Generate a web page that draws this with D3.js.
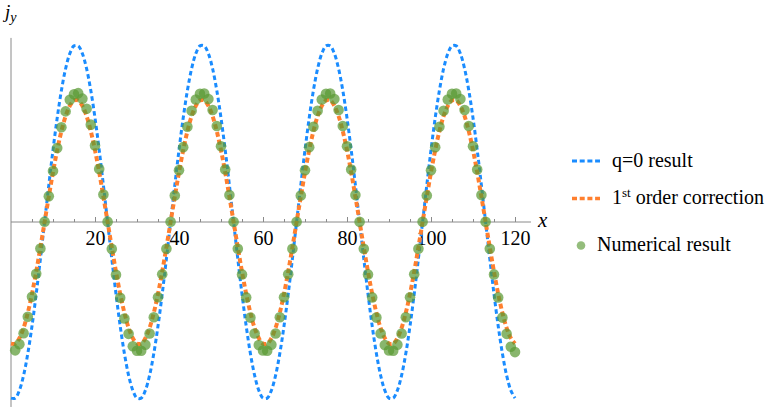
<!DOCTYPE html>
<html><head><meta charset="utf-8">
<script src="https://cdn.jsdelivr.net/npm/d3@7"></script>
</head>
<body style="margin:0;padding:0;background:#fff">
<svg id="c" width="775" height="411" style="display:block;font-family:'Liberation Serif',serif"></svg>
<script>
// ---- data ----
const xTicks = [20, 40, 60, 80, 100, 120];
const xMinorTicks = [5, 10, 15, 25, 30, 35, 45, 50, 55, 65, 70, 75, 85, 90, 95, 105, 110, 115];

// q=0 result, sampled at x = 0,1,...,120
const q0X = d3.range(0, 121, 1);
const q0Y = [
 -0.995,-0.995,-0.951,-0.866,-0.743,-0.588,-0.407,-0.208,0,0.208,0.407,0.588,0.743,0.866,0.951,0.995,0.995,0.951,0.866,0.743,0.588,0.407,0.208,0,-0.208,-0.407,-0.588,-0.743,-0.866,-0.951,
 -0.995,-0.995,-0.951,-0.866,-0.743,-0.588,-0.407,-0.208,0,0.208,0.407,0.588,0.743,0.866,0.951,0.995,0.995,0.951,0.866,0.743,0.588,0.407,0.208,0,-0.208,-0.407,-0.588,-0.743,-0.866,-0.951,
 -0.995,-0.995,-0.951,-0.866,-0.743,-0.588,-0.407,-0.208,0,0.208,0.407,0.588,0.743,0.866,0.951,0.995,0.995,0.951,0.866,0.743,0.588,0.407,0.208,0,-0.208,-0.407,-0.588,-0.743,-0.866,-0.951,
 -0.995,-0.995,-0.951,-0.866,-0.743,-0.588,-0.407,-0.208,0,0.208,0.407,0.588,0.743,0.866,0.951,0.995,0.995,0.951,0.866,0.743,0.588,0.407,0.208,0,-0.208,-0.407,-0.588,-0.743,-0.866,-0.951,
 -0.995
];

// 1st order correction, sampled at x = 0,1,...,120
const corrX = d3.range(0, 121, 1);
const corrY = [
 -0.687,-0.687,-0.656,-0.598,-0.513,-0.406,-0.281,-0.143,0,0.143,0.281,0.406,0.513,0.598,0.656,0.687,0.687,0.656,0.598,0.513,0.406,0.281,0.143,0,-0.143,-0.281,-0.406,-0.513,-0.598,-0.656,
 -0.687,-0.687,-0.656,-0.598,-0.513,-0.406,-0.281,-0.143,0,0.143,0.281,0.406,0.513,0.598,0.656,0.687,0.687,0.656,0.598,0.513,0.406,0.281,0.143,0,-0.143,-0.281,-0.406,-0.513,-0.598,-0.656,
 -0.687,-0.687,-0.656,-0.598,-0.513,-0.406,-0.281,-0.143,0,0.143,0.281,0.406,0.513,0.598,0.656,0.687,0.687,0.656,0.598,0.513,0.406,0.281,0.143,0,-0.143,-0.281,-0.406,-0.513,-0.598,-0.656,
 -0.687,-0.687,-0.656,-0.598,-0.513,-0.406,-0.281,-0.143,0,0.143,0.281,0.406,0.513,0.598,0.656,0.687,0.687,0.656,0.598,0.513,0.406,0.281,0.143,0,-0.143,-0.281,-0.406,-0.513,-0.598,-0.656,
 -0.687
];

// Numerical result, x = 1,2,...,120
const numX = d3.range(1, 121, 1);
const numY = [
 -0.725,-0.690,-0.628,-0.535,-0.423,-0.293,-0.150,0.002,0.145,0.288,0.418,0.535,0.625,0.690,0.722,0.728,0.697,0.640,0.550,0.432,0.300,0.155,0.002,-0.152,-0.298,-0.428,-0.545,-0.632,-0.702,-0.727,
 -0.727,-0.693,-0.630,-0.538,-0.425,-0.295,-0.151,0.001,0.150,0.293,0.423,0.538,0.628,0.692,0.724,0.726,0.695,0.633,0.542,0.428,0.297,0.152,0.001,-0.151,-0.296,-0.426,-0.540,-0.630,-0.695,-0.726,
 -0.727,-0.693,-0.630,-0.538,-0.425,-0.295,-0.151,0.001,0.150,0.293,0.423,0.538,0.628,0.692,0.724,0.726,0.695,0.633,0.542,0.428,0.297,0.152,0.001,-0.151,-0.296,-0.426,-0.540,-0.630,-0.695,-0.726,
 -0.727,-0.693,-0.630,-0.538,-0.425,-0.295,-0.151,0.001,0.150,0.293,0.423,0.538,0.628,0.692,0.724,0.726,0.695,0.633,0.542,0.428,0.297,0.152,0.001,-0.151,-0.296,-0.426,-0.540,-0.632,-0.705,-0.735
];

const legendLabels = ["q=0 result", "1st order correction", "Numerical result"];

// ---- drawing ----
const svg = d3.select("#c");
const x = d3.scaleLinear().domain([0, 120]).range([11, 515]);
const y = d3.scaleLinear().domain([-1, 1]).range([399, 45]);

const blue = "#1a8cff", orange = "#ff7f2e", green = "#5a9a35";
const serif = '"Liberation Serif"';

function txt(sel, size, italic) {
  return sel.style("font-family", serif).style("font-size", size + "px")
    .style("font-style", italic ? "italic" : "normal").attr("fill", "#000");
}

// axes
const axisColor = "#8a8a8a";
svg.append("line").attr("x1", x(0)).attr("x2", x(0))
  .attr("y1", y(1.04)).attr("y2", y(-1.045))
  .attr("stroke", axisColor).attr("stroke-width", 1);
svg.append("line").attr("x1", x(0)).attr("x2", x(123.8))
  .attr("y1", y(0)).attr("y2", y(0))
  .attr("stroke", axisColor).attr("stroke-width", 1);

const gx = svg.append("g").attr("transform", `translate(0,${y(0)})`)
  .call(d3.axisBottom(x).tickValues(xTicks).tickSizeInner(-5).tickSizeOuter(0).tickPadding(8.5));
gx.attr("font-family", null).attr("font-size", null);
gx.select(".domain").remove();
gx.selectAll(".tick line").attr("stroke", axisColor);
txt(gx.selectAll(".tick text"), 20, false);

const gm = svg.append("g").attr("transform", `translate(0,${y(0)})`)
  .call(d3.axisBottom(x).tickValues(xMinorTicks).tickSizeInner(-3).tickSizeOuter(0).tickFormat(""));
gm.select(".domain").remove();
gm.selectAll(".tick line").attr("stroke", axisColor);

// axis labels
txt(svg.append("text").attr("x", 538).attr("y", 227), 21, true).text("x");
const jl = txt(svg.append("text").attr("x", 5).attr("y", 18), 19, true);
jl.append("tspan").text("j");
jl.append("tspan").attr("dy", 4).style("font-size", "14px").text("y");

// curves
const line = d3.line().x(d => x(d[0])).y(d => y(d[1])).curve(d3.curveCatmullRom);
svg.append("path").datum(d3.zip(q0X, q0Y)).attr("d", line)
  .attr("fill", "none").attr("stroke", blue).attr("stroke-width", 3).attr("stroke-dasharray", "4.5,3");
svg.append("path").datum(d3.zip(corrX, corrY)).attr("d", line)
  .attr("fill", "none").attr("stroke", orange).attr("stroke-width", 4).attr("stroke-dasharray", "5,3");

// points
svg.append("g").selectAll("circle").data(d3.zip(numX, numY)).join("circle")
  .attr("cx", d => x(d[0])).attr("cy", d => y(d[1])).attr("r", 5.3)
  .attr("fill", green).attr("fill-opacity", 0.72);

// legend
const lg = svg.append("g");
lg.append("line").attr("x1", 572).attr("x2", 600).attr("y1", 161).attr("y2", 161)
  .attr("stroke", blue).attr("stroke-width", 3).attr("stroke-dasharray", "5,2.7");
lg.append("line").attr("x1", 572).attr("x2", 600).attr("y1", 198.5).attr("y2", 198.5)
  .attr("stroke", orange).attr("stroke-width", 3.5).attr("stroke-dasharray", "5,2.7");
lg.append("circle").attr("cx", 581).attr("cy", 245.5).attr("r", 4.3).attr("fill", green).attr("fill-opacity", 0.65);

txt(lg.append("text").attr("x", 612).attr("y", 166.5), 20, false).text(legendLabels[0]);
const t2 = txt(lg.append("text").attr("x", 612).attr("y", 204), 20, false);
t2.append("tspan").text("1");
t2.append("tspan").attr("dy", -7).style("font-size", "13px").text("st");
t2.append("tspan").attr("dy", 7).text(" order correction");
txt(lg.append("text").attr("x", 597).attr("y", 251), 20, false).text(legendLabels[2]);
</script>
</body></html>
